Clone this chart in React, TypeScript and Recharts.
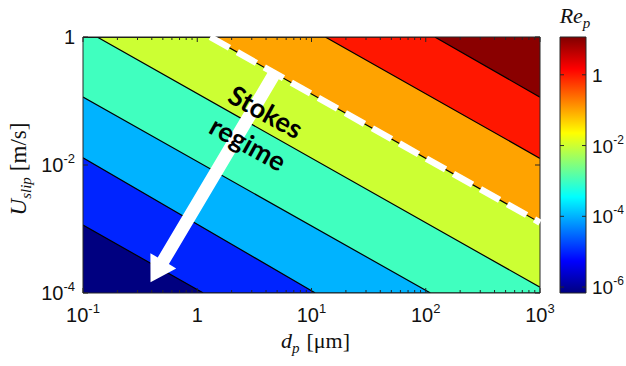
import React from 'react';
import {
  ComposedChart,
  Area,
  XAxis,
  YAxis,
  ReferenceArea,
  ReferenceLine,
  ReferenceDot,
} from 'recharts';

// ---- axes ----
// particle diameter d_p in µm: decades plus minor ticks in between
const dpTicks = [
  0.1, 0.2, 0.3, 0.4, 0.5, 0.6, 0.7, 0.8, 0.9,
  1, 2, 3, 4, 5, 6, 7, 8, 9,
  10, 20, 30, 40, 50, 60, 70, 80, 90,
  100, 200, 300, 400, 500, 600, 700, 800, 900,
  1000,
];
const dpRange = [0.1, 1000];
// slip velocity U_slip in m/s
const uTicks = [1e-4, 1e-2, 1];
const uRange = [1e-4, 1];
// particle Reynolds number colour scale
const reTicks = [1e-6, 1e-4, 1e-2, 1];
const reRange = [6.8e-7, 11.7];

// ---- iso-Re_p contours (Re_p = 1e-5 ... 10) ----
// each runs from where it enters the plot to where it leaves it
const contourRe1e5 = [
  { dp: 0.1, u: 1.15e-3 },
  { dp: 1.13, u: 1e-4 },
  { dp: 1000, u: 1e-4 },
];
const contourRe1e4 = [
  { dp: 0.1, u: 0.013 },
  { dp: 10.8, u: 1e-4 },
  { dp: 1000, u: 1e-4 },
];
const contourRe1e3 = [
  { dp: 0.1, u: 0.115 },
  { dp: 110, u: 1e-4 },
  { dp: 1000, u: 1e-4 },
];
const contourRe1e2 = [
  { dp: 0.1, u: 1 },
  { dp: 0.133, u: 1 },
  { dp: 1000, u: 1.23e-4 },
];
const contourRe1e1 = [
  { dp: 0.1, u: 1 },
  { dp: 1.3, u: 1 },
  { dp: 1000, u: 1.26e-3 },
];
const contourRe1 = [
  { dp: 0.1, u: 1 },
  { dp: 13.2, u: 1 },
  { dp: 1000, u: 0.0127 },
];
const contourRe10 = [
  { dp: 0.1, u: 1 },
  { dp: 120, u: 1 },
  { dp: 1000, u: 0.115 },
];
const contours = [
  contourRe1e5,
  contourRe1e4,
  contourRe1e3,
  contourRe1e2,
  contourRe1e1,
  contourRe1,
  contourRe10,
];
// band colours (jet) above each contour, and the lowest band below them all
const bandColors = ['#0024FF', '#00B3FF', '#40FFBF', '#CCFF33', '#FFA300', '#FF1700', '#8A0000'];
const lowestBand = [
  { dp: 0.1, u: 1e-4 },
  { dp: 1000, u: 1e-4 },
];
const lowestColor = '#000080';

// ---- Stokes regime annotation ----
const stokesLimit = contourRe1e1; // dashed boundary follows Re_p = 0.1
const arrowFrom = { dp: 4.7, u: 0.26 };
const arrowTo = { dp: 0.39, u: 1.47e-4 };
const regimeText = [
  { text: 'Stokes', dp: 4.0, u: 0.069 },
  { text: 'regime', dp: 2.8, u: 0.022 },
];

// ---- layout ----
const W = 626;
const H = 366;
const MARGIN = { top: 37, right: 86, bottom: 0, left: 0 };
const Y_AXIS_W = 83;
const X_AXIS_H = 73;
const PLOT_L = MARGIN.left + Y_AXIS_W;
const PLOT_T = MARGIN.top;
const PLOT_W = W - MARGIN.right - PLOT_L;
const PLOT_H = H - MARGIN.bottom - X_AXIS_H - PLOT_T;
const CB_LEFT = 540;
const CB_MARGIN_L = 20;
const CB_W = 26;
const CB_AXIS_W = 40;

const AXIS_COLOR = '#262626';
const SANS = '"Liberation Sans", Arial, sans-serif';
const SERIF = '"Liberation Serif", "Times New Roman", serif';

const isDecade = (v: number) => {
  const l = Math.log10(v);
  return Math.abs(l - Math.round(l)) < 1e-6;
};

function PowerText(props: any) {
  const { value, size = 20, ...rest } = props;
  const n = Math.round(Math.log10(value));
  if (n === 0) {
    return (
      <text fontFamily={SANS} fontSize={size} fill="#111" {...rest}>
        1
      </text>
    );
  }
  return (
    <text fontFamily={SANS} fontSize={size} fill="#111" {...rest}>
      10
      <tspan dy={-9} fontSize={Math.round(size * 0.65)}>
        {String(n)}
      </tspan>
    </text>
  );
}

function XTick(props: any) {
  const { x, payload } = props;
  const v = payload.value;
  const major = isDecade(v);
  const len = major ? 5 : 3;
  const bottom = PLOT_T + PLOT_H;
  return (
    <g>
      <line x1={x} x2={x} y1={bottom} y2={bottom - len} stroke={AXIS_COLOR} strokeWidth={1} />
      <line x1={x} x2={x} y1={PLOT_T} y2={PLOT_T + len} stroke={AXIS_COLOR} strokeWidth={1} />
      {major && <PowerText value={v} x={x} y={bottom + 29} textAnchor="middle" />}
    </g>
  );
}

function YTick(props: any) {
  const { y, payload } = props;
  const v = payload.value;
  const right = PLOT_L + PLOT_W;
  return (
    <g>
      <line x1={PLOT_L} x2={PLOT_L + 5} y1={y} y2={y} stroke={AXIS_COLOR} strokeWidth={1} />
      <line x1={right} x2={right - 5} y1={y} y2={y} stroke={AXIS_COLOR} strokeWidth={1} />
      <PowerText value={v} x={PLOT_L - 8} y={y + 7} textAnchor="end" />
    </g>
  );
}

function ColorbarTick(props: any) {
  const { y, payload } = props;
  const v = payload.value;
  const l = CB_MARGIN_L;
  const r = CB_MARGIN_L + CB_W;
  return (
    <g>
      <line x1={l} x2={l + 4} y1={y} y2={y} stroke={AXIS_COLOR} strokeWidth={1} />
      <line x1={r} x2={r - 4} y1={y} y2={y} stroke={AXIS_COLOR} strokeWidth={1} />
      <PowerText value={v} size={19} x={r + 6} y={y + 7} textAnchor="start" />
    </g>
  );
}

function XTitle(props: any) {
  const { x, y, width } = props.viewBox;
  return (
    <text x={x + width / 2 + 4} y={y + 55} textAnchor="middle" fontFamily={SERIF} fontSize={22} fill="#111">
      <tspan fontStyle="italic">d</tspan>
      <tspan fontStyle="italic" fontSize={15} dy={5}>
        p
      </tspan>
      <tspan dx={7} dy={-5}>
        [μm]
      </tspan>
    </text>
  );
}

function YTitle(props: any) {
  const { x, y, height } = props.viewBox;
  const cx = x + 26;
  const cy = y + height / 2 + 4;
  return (
    <text
      x={cx}
      y={cy}
      transform={`rotate(-90 ${cx} ${cy})`}
      textAnchor="middle"
      fontFamily={SERIF}
      fontSize={23}
      fill="#111"
    >
      <tspan fontStyle="italic">U</tspan>
      <tspan fontStyle="italic" fontSize={15} dy={5}>
        slip
      </tspan>
      <tspan dx={6} dy={-5}>
        [m/s]
      </tspan>
    </text>
  );
}

function ColorbarTitle(props: any) {
  const { x, y, width } = props.viewBox;
  return (
    <text x={x + width / 2 + 2} y={y - 14} textAnchor="middle" fontFamily={SERIF} fontSize={22} fill="#111">
      <tspan fontStyle="italic">Re</tspan>
      <tspan fontStyle="italic" fontSize={15} dy={5}>
        p
      </tspan>
    </text>
  );
}

function ArrowShape(props: any) {
  const { x1, y1, x2, y2 } = props;
  const dx = x2 - x1;
  const dy = y2 - y1;
  const len = Math.hypot(dx, dy) || 1;
  const ux = dx / len;
  const uy = dy / len;
  const nx = -uy;
  const ny = ux;
  const stem = 6.5;
  const head = 15;
  const headLen = 25;
  const bx = x2 - ux * headLen;
  const by = y2 - uy * headLen;
  const pts = [
    [x1 + nx * stem, y1 + ny * stem],
    [bx + nx * stem, by + ny * stem],
    [bx + nx * head, by + ny * head],
    [x2, y2],
    [bx - nx * head, by - ny * head],
    [bx - nx * stem, by - ny * stem],
    [x1 - nx * stem, y1 - ny * stem],
  ]
    .map((p) => `${p[0]},${p[1]}`)
    .join(' ');
  return <polygon points={pts} fill="#ffffff" />;
}

const regimeShape = (text: string) => (props: any) => {
  const { cx, cy } = props;
  return (
    <text
      x={cx}
      y={cy}
      transform={`rotate(29 ${cx} ${cy})`}
      textAnchor="middle"
      dominantBaseline="central"
      fontFamily="Lato, 'Open Sans', sans-serif"
      fontWeight={700}
      fontSize={27}
      fill="#000"
    >
      {text}
    </text>
  );
};

const colorbarData = [
  { x: 0, re: reRange[1] },
  { x: 1, re: reRange[1] },
];

export default function App() {
  return (
    <div style={{ position: 'absolute', left: 0, top: 0, width: W, height: H, background: '#fff' }}>
      <div style={{ position: 'absolute', left: 0, top: 0 }}>
        <ComposedChart width={W} height={H} margin={MARGIN}>
          <XAxis
            type="number"
            dataKey="dp"
            scale="log"
            domain={dpRange}
            ticks={dpTicks}
            interval={0}
            allowDataOverflow
            axisLine={false}
            tickLine={false}
            tickSize={0}
            tickMargin={0}
            tick={(p: any) => <XTick {...p} />}
            height={X_AXIS_H}
            label={<XTitle />}
          />
          <YAxis
            type="number"
            scale="log"
            domain={uRange}
            ticks={uTicks}
            interval={0}
            allowDataOverflow
            axisLine={false}
            tickLine={false}
            tickSize={0}
            tickMargin={0}
            tick={(p: any) => <YTick {...p} />}
            width={Y_AXIS_W}
            label={<YTitle />}
          />
          <Area
            data={lowestBand}
            dataKey="u"
            type="linear"
            baseValue={uRange[1]}
            stroke="none"
            fill={lowestColor}
            fillOpacity={1}
            dot={false}
            activeDot={false}
            isAnimationActive={false}
          />
          {contours.map((c, i) => (
            <Area
              key={i}
              data={c}
              dataKey="u"
              type="linear"
              baseValue={uRange[1]}
              stroke="#000"
              strokeWidth={1.2}
              fill={bandColors[i]}
              fillOpacity={1}
              dot={false}
              activeDot={false}
              isAnimationActive={false}
            />
          ))}
          <ReferenceArea
            x1={dpRange[0]}
            x2={dpRange[1]}
            y1={uRange[0]}
            y2={uRange[1]}
            fill="none"
            stroke={AXIS_COLOR}
            strokeWidth={1}
            ifOverflow="visible"
            zIndex={700}
          />
          <ReferenceLine
            segment={[
              { x: stokesLimit[1].dp, y: stokesLimit[1].u },
              { x: stokesLimit[2].dp, y: stokesLimit[2].u },
            ]}
            stroke="#ffffff"
            strokeWidth={6.5}
            strokeDasharray="22 9"
            ifOverflow="visible"
            zIndex={800}
          />
          <ReferenceLine
            segment={[
              { x: arrowFrom.dp, y: arrowFrom.u },
              { x: arrowTo.dp, y: arrowTo.u },
            ]}
            shape={ArrowShape}
            ifOverflow="visible"
            zIndex={810}
          />
          {regimeText.map((t) => (
            <ReferenceDot
              key={t.text}
              x={t.dp}
              y={t.u}
              r={0}
              shape={regimeShape(t.text)}
              ifOverflow="visible"
              zIndex={820}
            />
          ))}
        </ComposedChart>
      </div>
      <div style={{ position: 'absolute', left: CB_LEFT, top: 0 }}>
        <ComposedChart
          width={CB_MARGIN_L + CB_W + CB_AXIS_W}
          height={H}
          margin={{ top: PLOT_T, right: 0, bottom: X_AXIS_H, left: CB_MARGIN_L }}
        >
          <defs>
            <linearGradient id="jetScale" x1="0" y1="1" x2="0" y2="0">
              <stop offset="0" stopColor="#000080" />
              <stop offset="0.125" stopColor="#0000FF" />
              <stop offset="0.375" stopColor="#00FFFF" />
              <stop offset="0.625" stopColor="#FFFF00" />
              <stop offset="0.875" stopColor="#FF0000" />
              <stop offset="1" stopColor="#800000" />
            </linearGradient>
          </defs>
          <XAxis type="number" dataKey="x" domain={[0, 1]} hide />
          <YAxis
            orientation="right"
            type="number"
            scale="log"
            domain={reRange}
            ticks={reTicks}
            interval={0}
            allowDataOverflow
            axisLine={false}
            tickLine={false}
            tickSize={0}
            tickMargin={0}
            tick={(p: any) => <ColorbarTick {...p} />}
            width={CB_AXIS_W}
          />
          <Area
            data={colorbarData}
            dataKey="re"
            type="linear"
            baseValue={reRange[0]}
            stroke="none"
            fill="url(#jetScale)"
            fillOpacity={1}
            dot={false}
            activeDot={false}
            isAnimationActive={false}
          />
          <ReferenceArea
            x1={0}
            x2={1}
            y1={reRange[0]}
            y2={reRange[1]}
            fill="none"
            stroke={AXIS_COLOR}
            strokeWidth={1}
            ifOverflow="visible"
            zIndex={700}
            label={<ColorbarTitle />}
          />
        </ComposedChart>
      </div>
    </div>
  );
}
